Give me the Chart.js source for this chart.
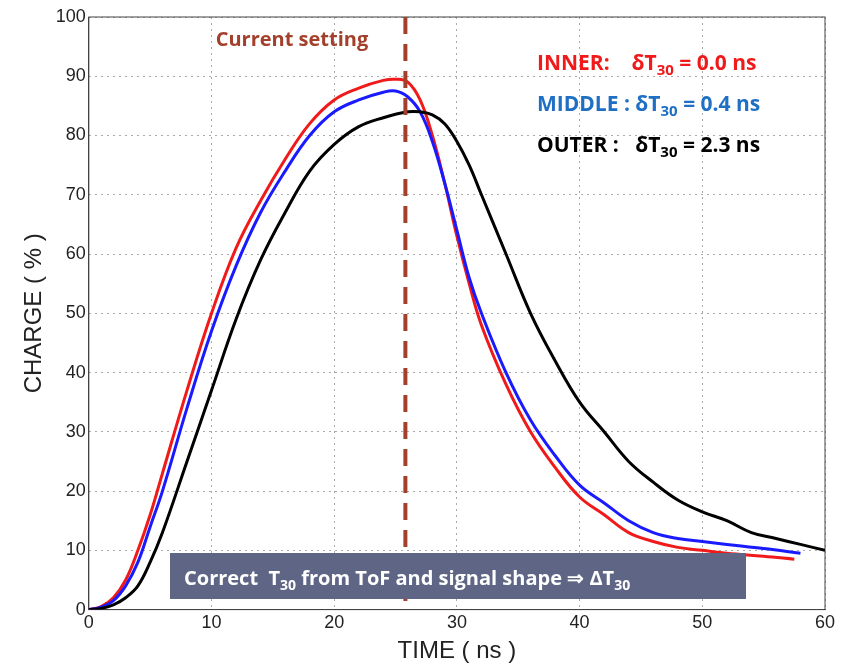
<!DOCTYPE html>
<html><head><meta charset="utf-8">
<script src="https://cdn.jsdelivr.net/npm/chart.js@4"></script>
<style>html,body{margin:0;background:#fff}#wrap{width:842px;height:666px}</style>
</head><body><div id="wrap"><canvas id="c"></canvas></div>
<script>
const innerT = [0,1,2,3,4,5,6,8,10,12,14,16,18,20,22,24,25,26,27,28,29,30,31,32,34,36,38,40,42,44,46,48,50,52,55,57.5];
const innerV = [0,0.5,2,5,10,16,23,37,50,61,69,76,82,86,88,89.3,89.5,89,86,80,72,63,55,48,38,30,24,19,16,13,11.5,10.5,10,9.5,9,8.5];
const middleT = [0,1,2,3,4,5,6,8,10,12,14,16,18,20,22,24,25,26,27,28,29,30,31,32,34,36,38,40,42,44,46,48,50,52,55,58];
const middleV = [0,0.4,1.5,4,8,14,20,34,47,58,67,74,80,84,86,87.3,87.5,86.5,84,79,72,64,56,50,40,32,26,21,18,15,13,12,11.5,11,10.3,9.5];
const outerT = [0,1,2,3,4,5,6,8,10,12,14,16,18,20,22,24,26,27,28,29,30,31,32,34,36,38,40,42,44,46,48,50,52,54,56,58,60];
const outerV = [0,0.2,0.8,2,4,8,13,25,37,49,59,67,74,78.5,81.5,83,84,84,83.5,82,79,75,70,60,50,42,35,30,25,21.5,18.5,16.5,15,13,12,11,10];
const currentSetting = 25.8;

const pts = (t, v) => t.map((x, i) => ({ x, y: v[i] }));

// textes par-dessus le graphe
const annot = {
  id: "annot",
  beforeDatasetsDraw(chart) {
    // cadre plein autour de la zone du graphe
    const { ctx, chartArea: a } = chart;
    ctx.save(); ctx.strokeStyle = "#444"; ctx.lineWidth = 1;
    ctx.strokeRect(a.left, a.top, a.right - a.left, a.bottom - a.top);
    ctx.restore();
  },
  afterDraw(chart) {
    const { ctx, scales: { x, y } } = chart;
    ctx.save();
    const xp = x.getPixelForValue(currentSetting);
    ctx.strokeStyle = "#a3402b"; ctx.lineWidth = 4; ctx.setLineDash([17, 10]);
    ctx.beginPath(); ctx.moveTo(xp, y.getPixelForValue(100)); ctx.lineTo(xp, y.getPixelForValue(0)); ctx.stroke();
    ctx.setLineDash([]);
    ctx.font = "bold 20px 'Open Sans', sans-serif"; ctx.fillStyle = "#a3402b";
    ctx.textBaseline = "middle"; ctx.textAlign = "center";
    ctx.fillText("Current setting", 292, 40);

    function line(parts, x0, yb, color) {
      let cx = x0;
      ctx.fillStyle = color; ctx.textAlign = "left"; ctx.textBaseline = "alphabetic";
      parts.forEach(p => {
        ctx.font = p.sub ? "bold 15px 'Open Sans', sans-serif" : "bold 21px 'Open Sans', sans-serif";
        ctx.fillText(p.t, cx, yb + (p.sub ? 5 : 0));
        cx += ctx.measureText(p.t).width;
      });
    }
    line([{t:"INNER:    δT"},{t:"30",sub:1},{t:" = 0.0 ns"}], 537, 70, "#f01a1a");
    line([{t:"MIDDLE : δT"},{t:"30",sub:1},{t:" = 0.4 ns"}], 537, 111, "#1f6fc4");
    line([{t:"OUTER :   δT"},{t:"30",sub:1},{t:" = 2.3 ns"}], 537, 152, "#000");

    ctx.fillStyle = "#5f6685"; ctx.fillRect(170, 553, 576, 46);
    ctx.fillStyle = "#fff";
    let cx = 184;
    [{t:"Correct  T"},{t:"30",sub:1},{t:" from ToF and signal shape ⇒ ΔT"},{t:"30",sub:1}].forEach(p => {
      ctx.font = p.sub ? "bold 14px 'Open Sans', sans-serif" : "bold 20px 'Open Sans', sans-serif";
      ctx.fillText(p.t, cx, 585 + (p.sub ? 5 : 0));
      cx += ctx.measureText(p.t).width;
    });
    ctx.restore();
  }
};

const ds = (label, data, color) => ({ label, data, borderColor: color, borderWidth: 3, pointRadius: 0, tension: 0.4, fill: false });

new Chart(document.getElementById("c"), {
  type: "line",
  data: { datasets: [
    ds("Outer", pts(outerT, outerV), "#000"),
    ds("Middle", pts(middleT, middleV), "#1a1aff"),
    ds("Inner", pts(innerT, innerV), "#f01a1a")
  ] },
  options: {
    responsive: true, maintainAspectRatio: false, animation: false,
    layout: { padding: { top: 17, right: 17, bottom: 0, left: 16 } },
    plugins: { legend: { display: false }, tooltip: { enabled: false } },
    scales: {
      x: { type: "linear", min: 0, max: 60,
        ticks: { stepSize: 10, color: "#222", padding: 3, font: { family: "Liberation Sans", size: 18 } },
        grid: { color: "#aaa", tickLength: 0, lineWidth: 1 }, border: { color: "#444", dash: [2, 4] },
        title: { display: true, text: "TIME ( ns )", color: "#222", font: { family: "Liberation Sans", size: 24 }, padding: { top: 0, bottom: 0 } } },
      y: { min: 0, max: 100,
        ticks: { stepSize: 10, color: "#222", font: { family: "Liberation Sans", size: 18 } },
        grid: { color: "#aaa", tickLength: 0 }, border: { color: "#444", dash: [2, 4] },
        title: { display: true, text: "CHARGE ( % )", color: "#222", font: { family: "Liberation Sans", size: 24 } } }
    }
  },
  plugins: [annot]
});
</script></body></html>
